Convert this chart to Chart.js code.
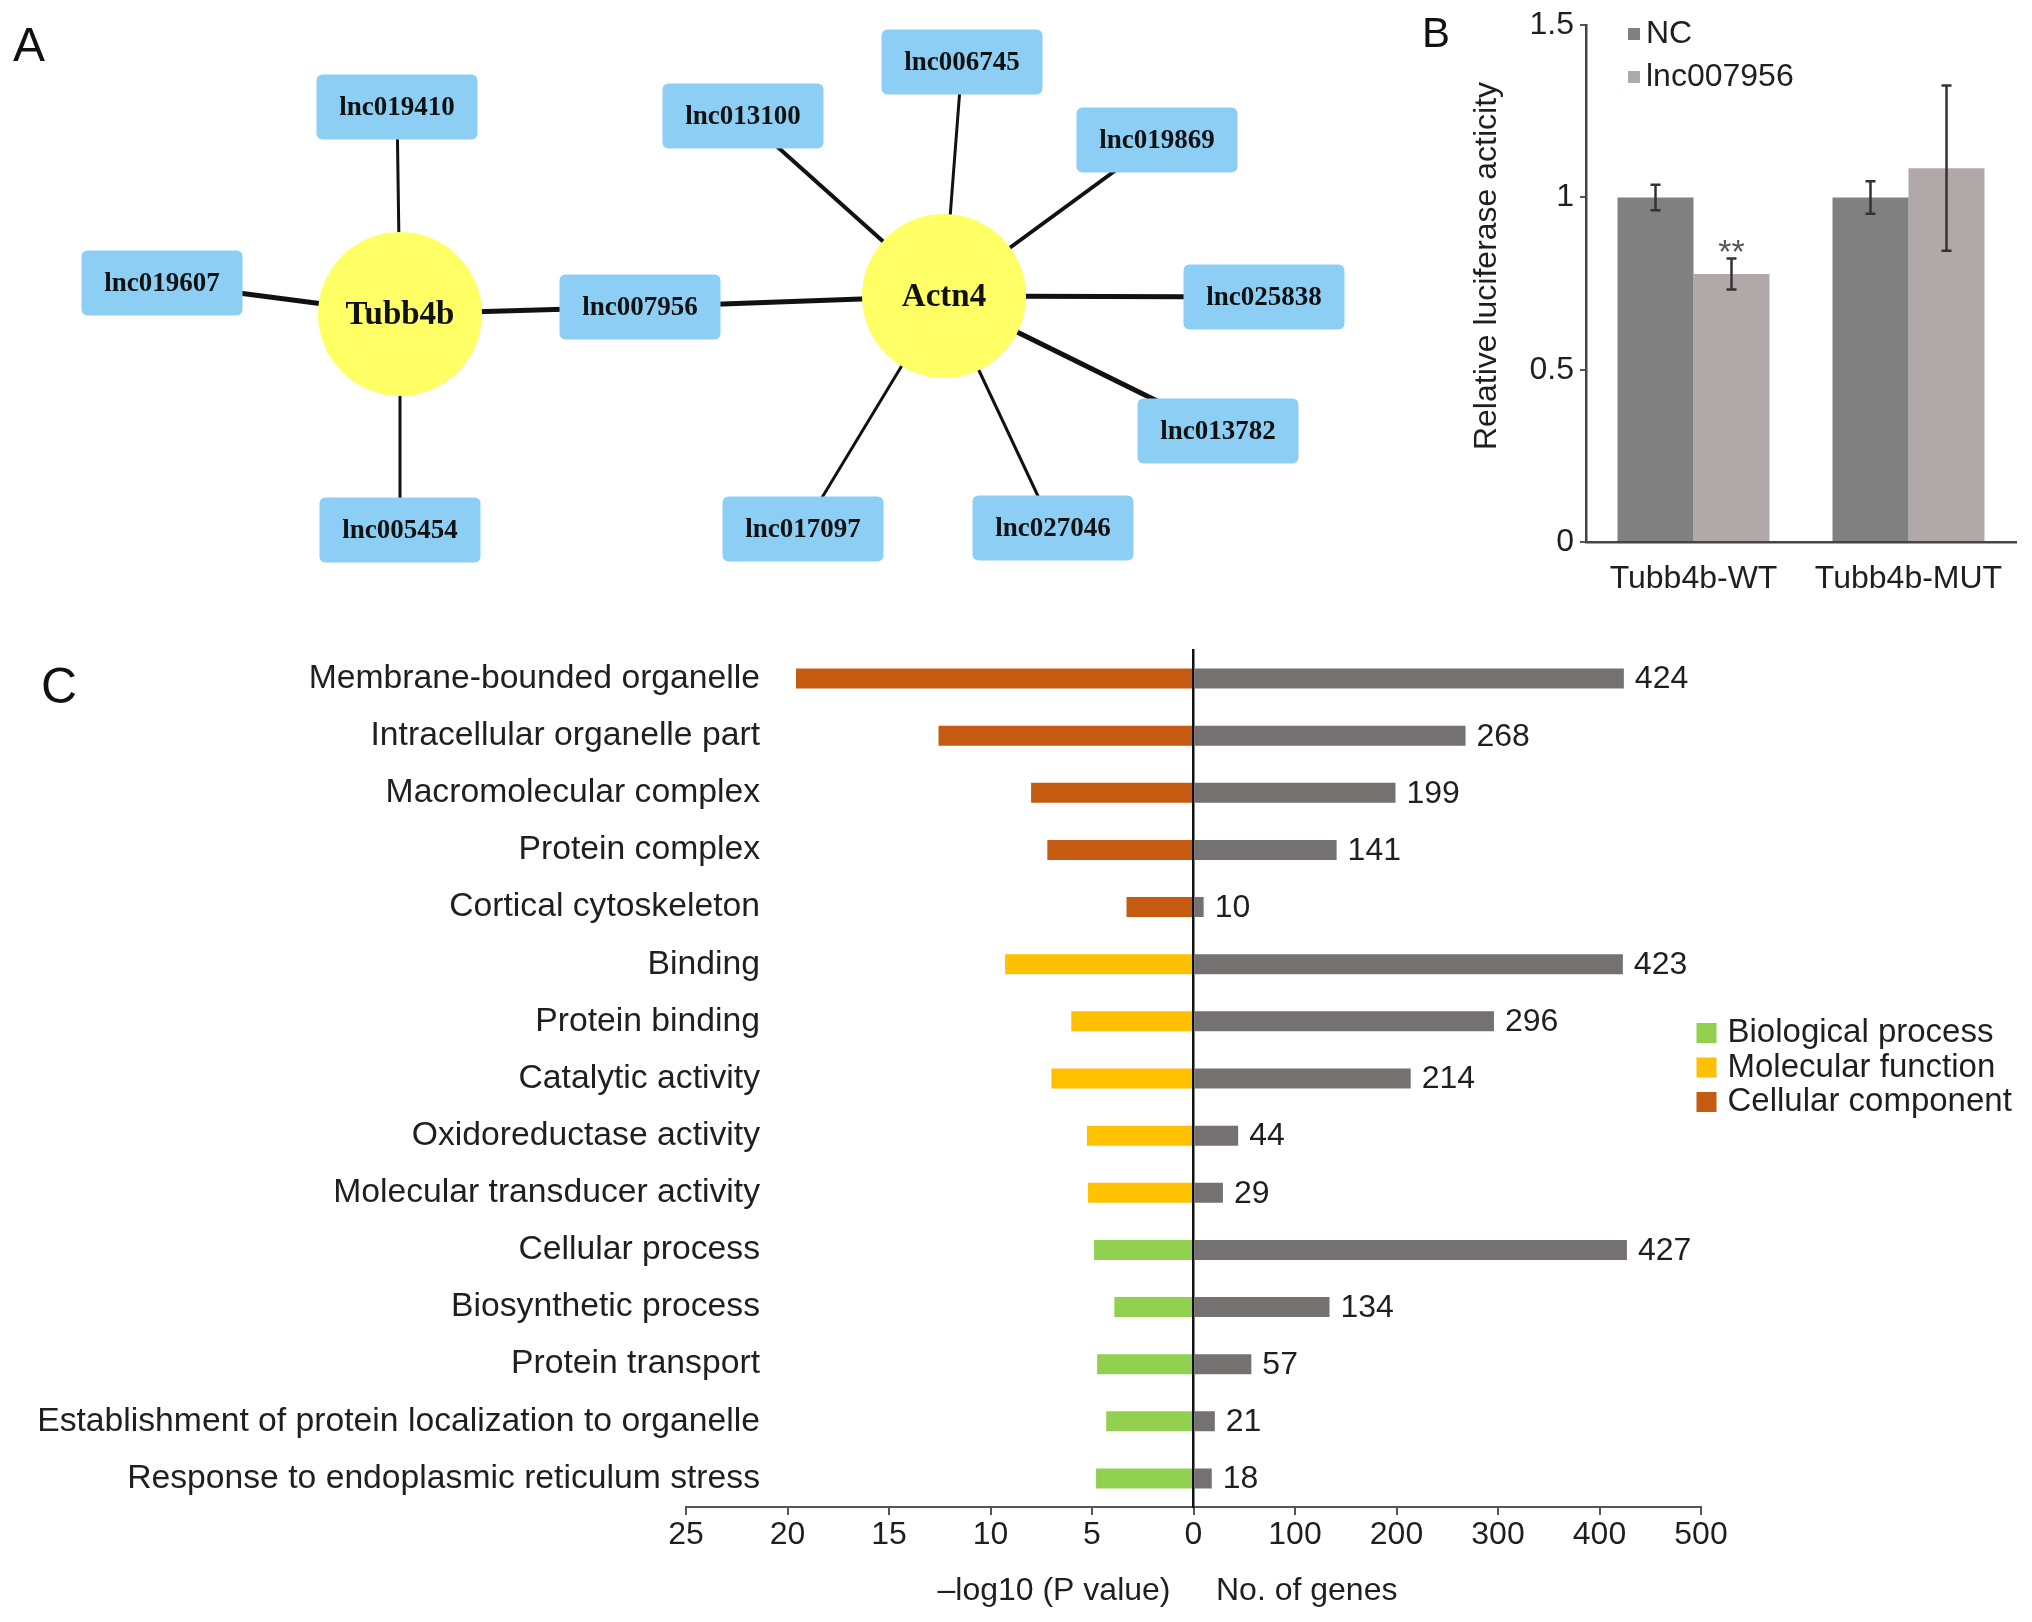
<!DOCTYPE html>
<html>
<head>
<meta charset="utf-8">
<script src="https://cdn.jsdelivr.net/npm/chart.js@4.4.1/dist/chart.umd.min.js"></script>
<style>
  html, body { margin: 0; padding: 0; background: #fff; }
  #page { position: relative; width: 2032px; height: 1622px; overflow: hidden; background: #fff; }
  canvas { position: absolute; }
</style>
</head>
<body>
<div id="page">
  <canvas id="networkChart" width="1380" height="600" style="left:0;top:0"></canvas>
  <canvas id="luciferaseChart" width="652" height="620" style="left:1380px;top:0"></canvas>
  <canvas id="pvalueChart" width="1230" height="1022" style="left:0;top:600px"></canvas>
  <canvas id="genesChart" width="882" height="1022" style="left:1150px;top:600px"></canvas>
</div>
<script>
// ---- Panel A: lncRNA / mRNA network ----
const nodeNames = ["Tubb4b", "Actn4", "lnc019410", "lnc019607", "lnc005454", "lnc007956",
    "lnc013100", "lnc006745", "lnc019869", "lnc025838", "lnc013782", "lnc027046", "lnc017097"];
const nodeX = [400, 944, 397, 162, 400, 640, 743, 962, 1157, 1264, 1218, 1053, 803];
const nodeY = [314, 296, 107, 283, 530, 307, 116, 62, 140, 297, 431, 528, 529];
const hubNodes = ["Tubb4b", "Actn4"];
const edgeFrom = ["Tubb4b", "Tubb4b", "Tubb4b", "Tubb4b", "Actn4", "Actn4", "Actn4",
    "Actn4", "Actn4", "Actn4", "Actn4", "Actn4"];
const edgeTo = ["lnc019410", "lnc019607", "lnc005454", "lnc007956", "lnc007956", "lnc013100",
    "lnc006745", "lnc019869", "lnc025838", "lnc013782", "lnc027046", "lnc017097"];
const edgeWeight = [3, 5, 3, 5, 5, 4, 3, 4, 5, 5, 3, 3];

// ---- Panel B: luciferase assay ----
const assayGroups = ["Tubb4b-WT", "Tubb4b-MUT"];
const ncMeans = [1.0, 1.0];
const ncErrors = [0.037, 0.047];
const lncMeans = [0.778, 1.085];
const lncErrors = [0.045, 0.24];
const luciferaseTicks = [0, 0.5, 1, 1.5];

// ---- Panel C: GO enrichment ----
const goTerms = ["Membrane-bounded organelle", "Intracellular organelle part", "Macromolecular complex",
    "Protein complex", "Cortical cytoskeleton", "Binding", "Protein binding", "Catalytic activity",
    "Oxidoreductase activity", "Molecular transducer activity", "Cellular process",
    "Biosynthetic process", "Protein transport", "Establishment of protein localization to organelle",
    "Response to endoplasmic reticulum stress"];
const goCategory = ["Cellular component", "Cellular component", "Cellular component", "Cellular component",
    "Cellular component", "Molecular function", "Molecular function", "Molecular function",
    "Molecular function", "Molecular function", "Biological process", "Biological process",
    "Biological process", "Biological process", "Biological process"];
const negLogP = [19.58, 12.56, 8.0, 7.2, 3.3, 9.28, 6.02, 7.0, 5.25, 5.2, 4.9, 3.9, 4.75, 4.3, 4.8];
const geneCounts = [424, 268, 199, 141, 10, 423, 296, 214, 44, 29, 427, 134, 57, 21, 18];
const categoryNames = ["Biological process", "Molecular function", "Cellular component"];
const pTicks = [25, 20, 15, 10, 5, 0];
const geneTicks = [0, 100, 200, 300, 400, 500];

const categoryColors = {
    "Biological process": "#92D050",
    "Molecular function": "#FFC000",
    "Cellular component": "#C55A11"
};
const TEXT = "#1f1f1f";

Chart.defaults.font.family = '"Liberation Sans", Arial, sans-serif';
Chart.defaults.color = TEXT;

// rounded blue box used as point style for lncRNA nodes
function makeBox() {
    const c = document.createElement("canvas");
    c.width = 162;
    c.height = 66;
    const g = c.getContext("2d");
    g.fillStyle = "#8DCFF4";
    g.beginPath();
    g.roundRect(0.5, 0.5, 161, 65, 6);
    g.fill();
    return c;
}
const boxImg = makeBox();

function nodePoint(name) {
    const i = nodeNames.indexOf(name);
    return { x: nodeX[i], y: nodeY[i] };
}

const nodeLabelPlugin = {
    id: "nodeLabels",
    afterDatasetsDraw(chart) {
        const { ctx, scales: { x, y } } = chart;
        ctx.save();
        ctx.textAlign = "center";
        ctx.textBaseline = "middle";
        ctx.fillStyle = "#111";
        nodeNames.forEach((n, i) => {
            ctx.font = hubNodes.includes(n) ? 'bold 33px "Liberation Serif"' : 'bold 27px "Liberation Serif"';
            ctx.fillText(n, x.getPixelForValue(nodeX[i]), y.getPixelForValue(nodeY[i]) + 1);
        });
        ctx.font = '48px "Liberation Sans"';
        ctx.textAlign = "left";
        ctx.textBaseline = "alphabetic";
        ctx.fillText("A", 13, 61);
        ctx.restore();
    }
};

const edgeDatasets = edgeFrom.map((from, i) => ({
    type: "line",
    data: [nodePoint(from), nodePoint(edgeTo[i])],
    borderColor: "#111",
    borderWidth: edgeWeight[i],
    pointRadius: 0,
    showLine: true,
    clip: false,
    order: 2
}));

new Chart(document.getElementById("networkChart"), {
    type: "scatter",
    data: {
        datasets: [{
            data: nodeNames.map(n => nodePoint(n)),
            pointStyle: nodeNames.map(n => hubNodes.includes(n) ? "circle" : boxImg),
            pointRadius: nodeNames.map(n => hubNodes.includes(n) ? 82 : 30),
            backgroundColor: "#FFFF66",
            borderWidth: 0,
            clip: false,
            order: 0
        }, ...edgeDatasets]
    },
    options: {
        responsive: false,
        animation: false,
        events: [],
        layout: { padding: 0, autoPadding: false },
        plugins: { legend: { display: false }, tooltip: { enabled: false } },
        scales: {
            x: { type: "linear", min: 0, max: 1380, display: false },
            y: { type: "linear", min: 0, max: 600, reverse: true, display: false }
        }
    },
    plugins: [nodeLabelPlugin]
});

// ---- Panel B ----
const errorBarPlugin = {
    id: "errorBars",
    afterDatasetsDraw(chart) {
        const { ctx, scales: { y } } = chart;
        const means = [ncMeans, lncMeans];
        const errs = [ncErrors, lncErrors];
        ctx.save();
        ctx.strokeStyle = "#333";
        ctx.lineWidth = 2.5;
        chart.data.datasets.forEach((ds, di) => {
            chart.getDatasetMeta(di).data.forEach((bar, i) => {
                const hi = y.getPixelForValue(means[di][i] + errs[di][i]);
                const lo = y.getPixelForValue(means[di][i] - errs[di][i]);
                ctx.beginPath();
                ctx.moveTo(bar.x, hi); ctx.lineTo(bar.x, lo);
                ctx.moveTo(bar.x - 5, hi); ctx.lineTo(bar.x + 5, hi);
                ctx.moveTo(bar.x - 5, lo); ctx.lineTo(bar.x + 5, lo);
                ctx.stroke();
            });
        });
        // significance mark over lnc007956 / WT
        const sig = chart.getDatasetMeta(1).data[0];
        ctx.fillStyle = "#555";
        ctx.font = '34px "Liberation Sans"';
        ctx.textAlign = "center";
        ctx.fillText("**", sig.x, y.getPixelForValue(lncMeans[0] + lncErrors[0]) + 5);

        // legend
        const a = chart.chartArea;
        ctx.font = '32px "Liberation Sans"';
        ctx.textAlign = "left";
        ctx.textBaseline = "middle";
        chart.data.datasets.forEach((ds, di) => {
            const cy = 34 + di * 43;
            ctx.fillStyle = ds.backgroundColor;
            ctx.fillRect(a.left + 42, cy - 6, 12, 12);
            ctx.fillStyle = TEXT;
            ctx.fillText(ds.label, a.left + 60, cy);
        });

        // y title, centred a little above the axis middle as in the figure
        ctx.save();
        ctx.translate(107, 266);
        ctx.rotate(-Math.PI / 2);
        ctx.textAlign = "center";
        ctx.fillText("Relative luciferase acticity", 0, 0);
        ctx.restore();

        ctx.font = '42px "Liberation Sans"';
        ctx.textBaseline = "alphabetic";
        ctx.fillStyle = "#111";
        ctx.fillText("B", 42, 47);
        ctx.restore();
    }
};

new Chart(document.getElementById("luciferaseChart"), {
    type: "bar",
    data: {
        labels: assayGroups,
        datasets: [
            { label: "NC", data: ncMeans, backgroundColor: "#808080" },
            { label: "lnc007956", data: lncMeans, backgroundColor: "#B1A8A9" }
        ]
    },
    options: {
        responsive: false,
        animation: false,
        events: [],
        layout: { padding: { top: 24.5, right: 16, left: 0, bottom: 0 } },
        datasets: { bar: { categoryPercentage: 0.707, barPercentage: 1.0 } },
        plugins: { legend: { display: false }, tooltip: { enabled: false } },
        scales: {
            x: {
                grid: { display: false, drawTicks: false },
                border: { color: "#444", width: 2.5 },
                ticks: { color: TEXT, font: { size: 32 }, padding: 18 },
                afterFit(s) { s.height = 78; }
            },
            y: {
                min: 0,
                max: 1.5,
                afterBuildTicks(s) { s.ticks = luciferaseTicks.map(v => ({ value: v })); },
                ticks: { callback: v => String(v), color: TEXT, font: { size: 32 }, padding: 6 },
                grid: { drawOnChartArea: false, drawTicks: true, tickLength: 6, color: "#555", lineWidth: 2 },
                border: { color: "#444", width: 2.5 },
                afterFit(s) { s.width = 206; }
            }
        }
    },
    plugins: [errorBarPlugin]
});

// ---- Panel C ----
const axisCommon = {
    grid: { drawOnChartArea: false, drawTicks: true, tickLength: 8, color: "#555", lineWidth: 2 },
    border: { color: "#555", width: 2 },
    afterFit(s) { s.height = 115; }
};

// term names sit partly over the empty end of the p-value axis, so they are drawn here
const leftTextPlugin = {
    id: "leftText",
    afterDraw(chart) {
        const { ctx, chartArea, scales: { y } } = chart;
        ctx.save();
        ctx.fillStyle = TEXT;
        ctx.font = '33.7px "Liberation Sans"';
        ctx.textAlign = "right";
        ctx.textBaseline = "middle";
        goTerms.forEach((term, i) => {
            ctx.fillText(term, chartArea.left + 74, y.getPixelForValue(i));
        });
        ctx.font = '32px "Liberation Sans"';
        ctx.fillText("\u2013log10 (P value)", chartArea.right - 23, 991);
        ctx.font = '50px "Liberation Sans"';
        ctx.textAlign = "left";
        ctx.textBaseline = "alphabetic";
        ctx.fillStyle = "#111";
        ctx.fillText("C", 41, 103);
        ctx.restore();
    }
};

new Chart(document.getElementById("pvalueChart"), {
    type: "bar",
    data: {
        labels: goTerms,
        datasets: [{
            data: negLogP,
            backgroundColor: goCategory.map(c => categoryColors[c]),
            barPercentage: 0.35,
            categoryPercentage: 1
        }]
    },
    options: {
        indexAxis: "y",
        responsive: false,
        animation: false,
        events: [],
        layout: { padding: { top: 50, right: 36.5, left: 0, bottom: 0 } },
        plugins: { legend: { display: false }, tooltip: { enabled: false } },
        scales: {
            x: {
                ...axisCommon,
                reverse: true,
                min: 0,
                max: 25,
                afterBuildTicks(s) { s.ticks = pTicks.map(v => ({ value: v })); },
                ticks: { color: TEXT, font: { size: 32 }, padding: 1 }
            },
            y: {
                ticks: { display: false },
                grid: { display: false, drawTicks: false },
                border: { display: false },
                afterFit(s) { s.width = 686; }
            }
        }
    },
    plugins: [leftTextPlugin]
});

const rightTextPlugin = {
    id: "rightText",
    afterDatasetsDraw(chart) {
        const { ctx, chartArea } = chart;
        ctx.save();
        ctx.fillStyle = TEXT;
        ctx.font = '32px "Liberation Sans"';
        ctx.textAlign = "left";
        ctx.textBaseline = "middle";
        chart.getDatasetMeta(0).data.forEach((bar, i) => {
            ctx.fillText(String(geneCounts[i]), bar.x + 11, bar.y + 1);
        });
        ctx.fillText("No. of genes", chartArea.left + 22.5, 991);

        // category legend
        ctx.font = '33px "Liberation Sans"';
        categoryNames.forEach((name, i) => {
            const cy = 433 + i * 34.5;
            ctx.fillStyle = categoryColors[name];
            ctx.fillRect(chartArea.right - 4.5, cy - 10, 20, 20);
            ctx.fillStyle = TEXT;
            ctx.fillText(name, chartArea.right + 26.5, cy);
        });
        ctx.restore();
    }
};

new Chart(document.getElementById("genesChart"), {
    type: "bar",
    data: {
        labels: goTerms,
        datasets: [{
            data: geneCounts,
            backgroundColor: "#767171",
            barPercentage: 0.35,
            categoryPercentage: 1
        }]
    },
    options: {
        indexAxis: "y",
        responsive: false,
        animation: false,
        events: [],
        layout: { padding: { top: 50, right: 331, left: 0, bottom: 0 } },
        plugins: { legend: { display: false }, tooltip: { enabled: false } },
        scales: {
            x: {
                ...axisCommon,
                min: 0,
                max: 500,
                afterBuildTicks(s) { s.ticks = geneTicks.map(v => ({ value: v })); },
                ticks: { callback: v => (v === 0 ? "" : String(v)), color: TEXT, font: { size: 32 }, padding: 1 }
            },
            y: {
                ticks: { display: false },
                grid: { display: false, drawTicks: false },
                border: { color: "#111", width: 2.5 },
                afterFit(s) { s.width = 43.5; }
            }
        }
    },
    plugins: [rightTextPlugin]
});
</script>
</body>
</html>
